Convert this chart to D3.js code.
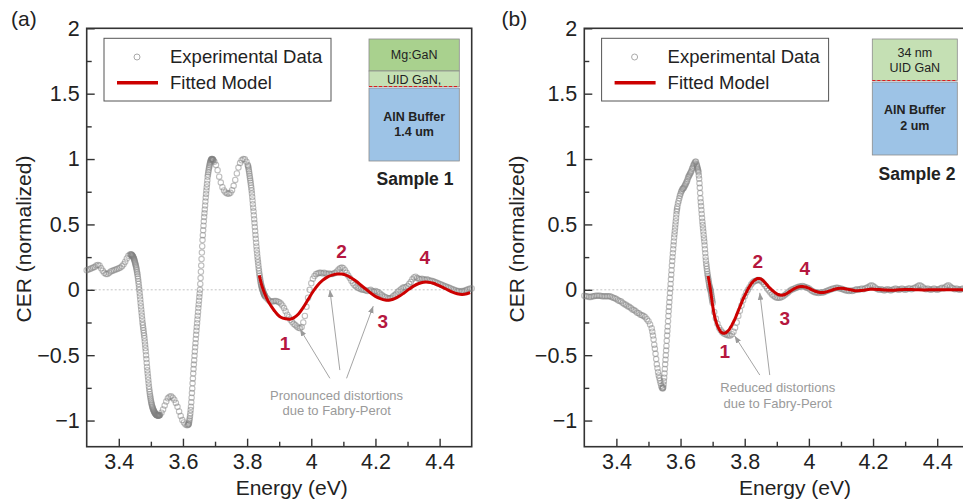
<!DOCTYPE html>
<html>
<head>
<meta charset="utf-8">
<script src="https://cdn.jsdelivr.net/npm/d3@7"></script>
<style>
  html, body { margin: 0; padding: 0; background: #fff; }
  svg { display: block; font-family: "Liberation Sans", Arial, Helvetica, sans-serif; }
</style>
</head>
<body>
<svg id="chart" width="963" height="502"></svg>
<script>
// ---- axes ----
const energyDomain = [3.3, 4.5];
const cerDomain = [-1.2, 2];
const energyTicks = [3.4, 3.6, 3.8, 4, 4.2, 4.4];
const energyMinorTicks = [3.5, 3.7, 3.9, 4.1, 4.3];
const cerTicks = [-1, -0.5, 0, 0.5, 1, 1.5, 2];
const cerMinorTicks = [-0.75, -0.25, 0.25, 0.75, 1.25, 1.75];

// ---- measured CER spectra: [start energy (eV), step (eV), CER values] ----
const sample1Spectrum = [
  [3.300, 0.005, [
    0.15, 0.155, 0.16, 0.165, 0.17, 0.175, 0.185, 0.19, 0.185, 0.165,
    0.145, 0.13, 0.12, 0.12, 0.13, 0.14, 0.145, 0.15, 0.155, 0.16,
    0.165, 0.17, 0.18, 0.195, 0.215, 0.24, 0.26, 0.27]],
  [3.438, 0.001, [
    0.27, 0.27, 0.268, 0.265, 0.262, 0.259, 0.255, 0.25, 0.245, 0.239,
    0.232, 0.224, 0.215, 0.205, 0.195, 0.185, 0.175, 0.163, 0.15, 0.135,
    0.12, 0.103, 0.085, 0.065, 0.045, 0.022, 0.0, -0.025, -0.05, -0.075,
    -0.1, -0.125, -0.15, -0.175, -0.2, -0.225, -0.25, -0.27, -0.29, -0.31,
    -0.33, -0.35, -0.37, -0.395, -0.42, -0.445, -0.47, -0.5, -0.53, -0.56,
    -0.59, -0.615, -0.64, -0.665, -0.69, -0.715, -0.74, -0.76, -0.78, -0.798,
    -0.815, -0.83, -0.845, -0.858, -0.87, -0.88, -0.89, -0.898, -0.905, -0.913,
    -0.92, -0.925, -0.93, -0.935, -0.94, -0.944, -0.947, -0.95, -0.953, -0.955,
    -0.957, -0.959, -0.96, -0.961, -0.962, -0.962, -0.962, -0.961, -0.96, -0.958,
    -0.957]],
  [3.533, 0.005, [
    -0.94, -0.915, -0.885, -0.855, -0.83, -0.818, -0.815, -0.825, -0.84, -0.865,
    -0.895, -0.93, -0.965, -0.995, -1.015, -1.03, -1.035]],
  [3.616, 0.001, [
    -1.033, -1.03, -1.025, -1.015, -1.0, -0.985, -0.965, -0.945, -0.92, -0.895,
    -0.86, -0.825, -0.79, -0.755, -0.715, -0.678, -0.64, -0.606, -0.572, -0.538,
    -0.505, -0.472, -0.44, -0.408, -0.376, -0.344, -0.314, -0.285, -0.256, -0.227,
    -0.198, -0.169, -0.14, -0.112, -0.084, -0.056, -0.028, 0.0, 0.045, 0.09,
    0.138, 0.185, 0.235, 0.285, 0.333, 0.38, 0.418, 0.455, 0.49, 0.524,
    0.556, 0.585, 0.615, 0.645, 0.675, 0.705, 0.733, 0.76, 0.785, 0.81,
    0.836, 0.864, 0.882, 0.9, 0.915, 0.929, 0.942, 0.954, 0.966, 0.975,
    0.983, 0.99, 0.995, 0.998, 1.0, 1.0, 0.998, 0.996, 0.993, 0.989]],
  [3.698, 0.005, [
    0.98, 0.955, 0.915, 0.865, 0.82, 0.785, 0.76, 0.745, 0.737, 0.735,
    0.742, 0.762, 0.795, 0.84, 0.89, 0.935, 0.97, 0.99, 1.0, 0.998,
    0.98]],
  [3.802, 0.001, [
    0.955, 0.946, 0.935, 0.921, 0.905, 0.888, 0.87, 0.853, 0.835, 0.818,
    0.8, 0.781, 0.76, 0.736, 0.71, 0.683, 0.655, 0.628, 0.6, 0.57,
    0.54, 0.51, 0.48, 0.45, 0.42, 0.39, 0.36, 0.332, 0.305, 0.28,
    0.255, 0.232, 0.21, 0.187, 0.165, 0.145, 0.125, 0.107, 0.09, 0.075,
    0.06, 0.047, 0.035, 0.025, 0.015, 0.007, 0.0, -0.008, -0.015, -0.022,
    -0.028, -0.034, -0.04, -0.045, -0.05]],
  [3.860, 0.005, [
    -0.06, -0.075, -0.085, -0.09, -0.09, -0.085, -0.085, -0.09, -0.095, -0.105,
    -0.12, -0.14, -0.165, -0.19, -0.21, -0.23, -0.245, -0.26, -0.27, -0.28,
    -0.29, -0.295, -0.285, -0.25, -0.2, -0.13, -0.06, 0.0, 0.05, 0.085,
    0.105, 0.12, 0.125, 0.13, 0.13, 0.125, 0.13, 0.125, 0.12, 0.125,
    0.12, 0.12, 0.125, 0.13, 0.14, 0.155, 0.165, 0.17, 0.165, 0.15,
    0.13, 0.11, 0.09, 0.07, 0.05, 0.035, 0.025, 0.015, 0.01, 0.005,
    0.0, 0.0, -0.005, -0.01, -0.005, 0.0, -0.01, -0.015, -0.01, -0.015,
    -0.02, -0.03, -0.04, -0.05, -0.055, -0.06, -0.065, -0.065, -0.06, -0.05,
    -0.04, -0.03, -0.015, -0.005, 0.005, 0.015, 0.02, 0.02, 0.03, 0.045,
    0.06, 0.08, 0.095, 0.1, 0.09, 0.085, 0.08, 0.085, 0.08, 0.075,
    0.08, 0.075, 0.07, 0.07, 0.065, 0.06, 0.055, 0.05, 0.045, 0.04,
    0.035, 0.03, 0.025, 0.02, 0.015, 0.01, 0.005, 0.0, -0.005, -0.01,
    -0.01, -0.015, -0.01, -0.01, -0.005, 0.0, 0.005, 0.01, 0.01]]
];

const sample2Spectrum = [
  [3.300, 0.005, [
    -0.045, -0.05, -0.05, -0.055, -0.055, -0.05, -0.05, -0.045, -0.045, -0.045,
    -0.045, -0.05, -0.05, -0.05, -0.05, -0.05, -0.05, -0.055, -0.06, -0.065,
    -0.07, -0.08, -0.085, -0.09, -0.1, -0.11, -0.115, -0.125, -0.13, -0.14,
    -0.15, -0.155, -0.165, -0.175, -0.18, -0.19, -0.195, -0.2, -0.21, -0.225,
    -0.24, -0.265, -0.295]],
  [3.512, 0.002, [
    -0.32, -0.35, -0.38, -0.42, -0.45, -0.49, -0.53, -0.57, -0.6, -0.63,
    -0.655, -0.675, -0.695, -0.715, -0.735, -0.75, -0.755]],
  [3.545, 0.001, [
    -0.752, -0.745, -0.725, -0.7, -0.672, -0.64, -0.605, -0.57, -0.535, -0.5,
    -0.465, -0.43, -0.39, -0.35, -0.315, -0.28, -0.24, -0.2, -0.165, -0.13,
    -0.095, -0.06, -0.025, 0.01, 0.045, 0.08, 0.115, 0.15, 0.185, 0.22,
    0.25, 0.28, 0.31, 0.34, 0.37, 0.4, 0.425, 0.45, 0.475, 0.5,
    0.525, 0.55, 0.575, 0.6, 0.618, 0.635]],
  [3.592, 0.002, [
    0.66, 0.68, 0.7, 0.72, 0.735, 0.75, 0.76, 0.77, 0.775, 0.78,
    0.79, 0.8, 0.81, 0.82, 0.83, 0.845, 0.86, 0.87, 0.88, 0.89,
    0.9, 0.91, 0.925, 0.935, 0.95, 0.96, 0.97, 0.98, 0.98, 0.96]],
  [3.651, 0.001, [
    0.95, 0.94, 0.93, 0.92, 0.91, 0.9, 0.875, 0.85, 0.815, 0.78,
    0.74, 0.7, 0.67, 0.64, 0.61, 0.58, 0.55, 0.52, 0.495, 0.47,
    0.445, 0.42, 0.395, 0.37, 0.34, 0.31, 0.28, 0.25, 0.225, 0.2,
    0.18, 0.16, 0.14, 0.12, 0.105, 0.09, 0.075, 0.06, 0.045, 0.03,
    0.02, 0.01, 0.0, -0.01, -0.025, -0.04, -0.055, -0.07, -0.085, -0.1]],
  [3.705, 0.005, [
    -0.17, -0.22, -0.26, -0.29, -0.31, -0.325, -0.335, -0.34, -0.345, -0.35,
    -0.35, -0.34, -0.32, -0.29, -0.25, -0.2, -0.16, -0.12, -0.08, -0.05,
    -0.02, 0.0, 0.02, 0.04, 0.055, 0.065, 0.07, 0.075, 0.075, 0.07,
    0.06, 0.045, 0.03, 0.01, -0.005, -0.02, -0.035, -0.045, -0.055, -0.06,
    -0.06, -0.06, -0.055, -0.05, -0.04, -0.03, -0.02, -0.01, 0.0, 0.005,
    0.01, 0.015, 0.02, 0.025, 0.025, 0.03, 0.025, 0.02, 0.015, 0.01,
    0.0, -0.01, -0.015, -0.02, -0.02, -0.025, -0.02, -0.02, -0.02, -0.015,
    -0.01, -0.005, 0.0, 0.005, 0.01, 0.01, 0.015, 0.015, 0.01, 0.01,
    0.005, 0.0, -0.005, -0.005, -0.01, -0.005, -0.01, -0.005, 0.0, 0.005,
    0.0, 0.005, 0.01, 0.005, 0.01, 0.015, 0.02, 0.03, 0.035, 0.03,
    0.02, 0.01, 0.005, 0.0, 0.005, 0.0, -0.005, 0.0, 0.005, 0.0,
    -0.005, 0.0, 0.005, 0.01, 0.005, 0.0, 0.005, 0.01, 0.005, 0.0,
    0.005, 0.01, 0.01, 0.005, 0.01, 0.015, 0.02, 0.03, 0.035, 0.03,
    0.02, 0.01, 0.005, 0.01, 0.005, 0.0, 0.005, 0.01, 0.005, 0.0,
    0.005, 0.01, 0.015, 0.01, 0.02, 0.03, 0.035, 0.025, 0.015, 0.01,
    0.005, 0.01, 0.005, 0.0, 0.005, 0.01, 0.005, 0.0, 0.005, 0.0]]
];

// ---- fitted model curves: [energy (eV), CER] ----
const sample1Fit = [
  [3.838, 0.11], [3.845, 0.04], [3.855, -0.03], [3.865, -0.085], [3.875, -0.125],
  [3.885, -0.16], [3.895, -0.19], [3.905, -0.21], [3.92, -0.222], [3.933, -0.225],
  [3.945, -0.215], [3.96, -0.185], [3.975, -0.135], [3.99, -0.075], [4.005, -0.015],
  [4.02, 0.035], [4.035, 0.072], [4.05, 0.097], [4.065, 0.112], [4.08, 0.12],
  [4.095, 0.12], [4.11, 0.11], [4.125, 0.09], [4.14, 0.065], [4.155, 0.035],
  [4.17, 0.005], [4.185, -0.025], [4.2, -0.05], [4.215, -0.067], [4.23, -0.078],
  [4.245, -0.078], [4.26, -0.068], [4.275, -0.048], [4.29, -0.022], [4.305, 0.005],
  [4.32, 0.03], [4.335, 0.048], [4.35, 0.058], [4.365, 0.058], [4.38, 0.05],
  [4.395, 0.035], [4.41, 0.018], [4.425, 0.0], [4.44, -0.018], [4.455, -0.03],
  [4.47, -0.035], [4.485, -0.03], [4.495, -0.022]
];

const sample2Fit = [
  [3.686, 0.105], [3.69, 0.05], [3.695, -0.03], [3.7, -0.12], [3.705, -0.19],
  [3.71, -0.24], [3.715, -0.275], [3.72, -0.3], [3.725, -0.32], [3.73, -0.33],
  [3.735, -0.333], [3.74, -0.33], [3.745, -0.32], [3.75, -0.31], [3.755, -0.29],
  [3.76, -0.27], [3.765, -0.245], [3.77, -0.22], [3.775, -0.19], [3.78, -0.16],
  [3.785, -0.13], [3.79, -0.1], [3.795, -0.07], [3.8, -0.045], [3.805, -0.02],
  [3.81, 0.005], [3.815, 0.025], [3.82, 0.045], [3.825, 0.06], [3.83, 0.072],
  [3.835, 0.08], [3.84, 0.086], [3.845, 0.087], [3.85, 0.083], [3.855, 0.075],
  [3.86, 0.064], [3.865, 0.05], [3.87, 0.036], [3.875, 0.022], [3.88, 0.01],
  [3.885, -0.002], [3.89, -0.012], [3.895, -0.022], [3.9, -0.03], [3.905, -0.036],
  [3.91, -0.04], [3.915, -0.041], [3.92, -0.04], [3.925, -0.036], [3.93, -0.03],
  [3.935, -0.022], [3.94, -0.014], [3.945, -0.006], [3.95, 0.002], [3.955, 0.009],
  [3.96, 0.015], [3.965, 0.02], [3.97, 0.023], [3.975, 0.025], [3.98, 0.025],
  [3.985, 0.024], [3.99, 0.021], [3.995, 0.017], [4.0, 0.012], [4.01, 0.0],
  [4.02, -0.011], [4.03, -0.018], [4.04, -0.02], [4.05, -0.018], [4.06, -0.012],
  [4.07, -0.004], [4.08, 0.004], [4.09, 0.01], [4.1, 0.012], [4.11, 0.01],
  [4.12, 0.005], [4.13, 0.0], [4.14, -0.005], [4.15, -0.007], [4.16, -0.006],
  [4.17, -0.003], [4.18, 0.001], [4.19, 0.004], [4.2, 0.005], [4.22, 0.002],
  [4.24, -0.002], [4.26, -0.003], [4.28, 0.0], [4.3, 0.002], [4.32, 0.002],
  [4.34, 0.0], [4.36, -0.001], [4.38, 0.0], [4.4, 0.001], [4.42, 0.001],
  [4.44, 0.0], [4.46, 0.0], [4.48, 0.0], [4.5, 0.0]
];

// ---- numbered oscillation extrema: [label, energy, CER at text baseline] ----
const sample1Extrema = [["1", 3.918, -0.461], ["2", 4.094, 0.240], ["3", 4.223, -0.293], ["4", 4.354, 0.196]];
const sample2Extrema = [["1", 3.738, -0.522], ["2", 3.841, 0.166], ["3", 3.925, -0.270], ["4", 3.987, 0.112]];

// ---- callout arrows: [from energy, from CER, to energy, to CER] ----
const sample1Arrows = [[4.058, -0.677, 3.965, -0.301], [4.089, -0.614, 4.058, -0.002], [4.110, -0.677, 4.193, -0.125]];
const sample2Arrows = [[3.847, -0.652, 3.769, -0.354], [3.878, -0.652, 3.847, -0.023]];
const sample1Note = { e: 4.079, v: [-0.842, -0.960], lines: ["Pronounced distortions", "due to Fabry-Perot"] };
const sample2Note = { e: 3.903, v: [-0.782, -0.904], lines: ["Reduced distortions", "due to Fabry-Perot"] };

// ---- layer stacks drawn beside the legend ----
const sample1Stack = {
  x: 282.3, w: 90.3, title: "Sample 1", titleX: 328.3, titleY: 157.2, dashY: 58.2,
  layers: [
    { y: 10.7, h: 32, fill: "#a9d18e" },
    { y: 42.7, h: 15.5, fill: "#c5e0b4" },
    { y: 59.7, h: 73, fill: "#9dc3e6" }
  ],
  texts: [
    { t: "Mg:GaN", y: 31.2, bold: false },
    { t: "UID GaN,", y: 56.0, bold: false },
    { t: "AlN Buffer", y: 92.7, bold: true },
    { t: "1.4 um", y: 107.7, bold: true }
  ]
};
const sample2Stack = {
  x: 288, w: 85, title: "Sample 2", titleX: 332.7, titleY: 152.2, dashY: 52.2,
  layers: [
    { y: 10.7, h: 41.5, fill: "#c5e0b4" },
    { y: 53.7, h: 73, fill: "#9dc3e6" }
  ],
  texts: [
    { t: "34 nm", y: 29.2, bold: false },
    { t: "UID GaN", y: 44.2, bold: false },
    { t: "AlN Buffer", y: 86.2, bold: true },
    { t: "2 um", y: 102.2, bold: true }
  ]
};

const legendLabels = ["Experimental Data", "Fitted Model"];

const panels = [
  { tag: "(a)", tagX: 11, left: 86.7, spectrum: sample1Spectrum, fit: sample1Fit,
    extrema: sample1Extrema, arrows: sample1Arrows, note: sample1Note, stack: sample1Stack,
    xTitleDx: 205, yTitleX: 31 },
  { tag: "(b)", tagX: 501.5, left: 584.3, spectrum: sample2Spectrum, fit: sample2Fit,
    extrema: sample2Extrema, arrows: sample2Arrows, note: sample2Note, stack: sample2Stack,
    xTitleDx: 210.7, yTitleX: 524 }
];

// ---- drawing ----
const svg = d3.select("#chart");
const TOP = 28.3, W = 385, H = 418.4;
const RED = "#cc0000", ACCENT = "#b5173f", INK = "#222";

svg.append("defs").append("marker")
  .attr("id", "arrowhead").attr("viewBox", "0 0 10 10")
  .attr("refX", 10).attr("refY", 5)
  .attr("markerWidth", 7).attr("markerHeight", 7)
  .attr("markerUnits", "userSpaceOnUse").attr("orient", "auto")
  .append("path").attr("d", "M0,1 L10,5 L0,9 Z").attr("fill", "#9a9a9a");

function expand(segments) {
  return segments.flatMap(([e0, step, vals]) =>
    vals.map((v, i) => ({ e: +(e0 + i * step).toFixed(4), v })));
}

panels.forEach(p => {
  const x = d3.scaleLinear().domain(energyDomain).range([0, W]);
  const y = d3.scaleLinear().domain(cerDomain).range([H, 0]);
  const g = svg.append("g").attr("transform", `translate(${p.left},${TOP})`);
  const fmt = d3.format("~g");

  // panel tag
  svg.append("text").attr("x", p.tagX).attr("y", 25.5)
    .attr("font-size", 21).attr("fill", INK).text(p.tag);

  // zero reference
  g.append("line").attr("x1", 0).attr("x2", W).attr("y1", y(0)).attr("y2", y(0))
    .attr("stroke", "#c4c4c4").attr("stroke-width", 1).attr("stroke-dasharray", "2,2");

  // axes (ticks drawn inward)
  const styleAxis = sel => {
    sel.select(".domain").remove();
    sel.selectAll(".tick line").attr("stroke", "#333").attr("stroke-width", 1.4);
    sel.selectAll(".tick text").attr("fill", INK).attr("font-size", 21.5)
      .attr("font-family", "Liberation Sans, Arial, sans-serif");
  };
  g.append("g").attr("transform", `translate(0,${H})`)
    .call(d3.axisBottom(x).tickValues(energyTicks).tickFormat(fmt)
      .tickSizeInner(-8).tickSizeOuter(0).tickPadding(7))
    .call(styleAxis);
  g.append("g").attr("transform", `translate(0,${H})`)
    .call(d3.axisBottom(x).tickValues(energyMinorTicks).tickFormat("")
      .tickSizeInner(-5).tickSizeOuter(0))
    .call(styleAxis);
  g.append("g")
    .call(d3.axisLeft(y).tickValues(cerTicks).tickFormat(fmt)
      .tickSizeInner(-8).tickSizeOuter(0).tickPadding(7))
    .call(styleAxis);
  g.append("g")
    .call(d3.axisLeft(y).tickValues(cerMinorTicks).tickFormat("")
      .tickSizeInner(-5).tickSizeOuter(0))
    .call(styleAxis);

  // frame
  g.append("rect").attr("width", W).attr("height", H)
    .attr("fill", "none").attr("stroke", "#333").attr("stroke-width", 1.6);

  // axis titles
  g.append("text").attr("x", p.xTitleDx).attr("y", 495 - TOP)
    .attr("text-anchor", "middle").attr("font-size", 21).attr("fill", INK)
    .text("Energy (eV)");
  svg.append("text")
    .attr("transform", `translate(${p.yTitleX},239) rotate(-90)`)
    .attr("text-anchor", "middle").attr("font-size", 21).attr("fill", INK)
    .text("CER (normalized)");

  // experimental points
  g.append("g").selectAll("circle").data(expand(p.spectrum)).join("circle")
    .attr("cx", d => x(d.e)).attr("cy", d => y(d.v)).attr("r", 2.7)
    .attr("fill", "none").attr("stroke", "#808080")
    .attr("stroke-opacity", 0.5).attr("stroke-width", 1.1);

  // fitted model
  g.append("path").datum(p.fit)
    .attr("d", d3.line().x(d => x(d[0])).y(d => y(d[1])).curve(d3.curveCatmullRom.alpha(0.5)))
    .attr("fill", "none").attr("stroke", RED).attr("stroke-width", 3)
    .attr("stroke-linejoin", "round");

  // callout arrows and note
  g.append("g").selectAll("line").data(p.arrows).join("line")
    .attr("x1", d => x(d[0])).attr("y1", d => y(d[1]))
    .attr("x2", d => x(d[2])).attr("y2", d => y(d[3]))
    .attr("stroke", "#9a9a9a").attr("stroke-width", 0.9)
    .attr("marker-end", "url(#arrowhead)");
  g.append("g").selectAll("text").data(p.note.lines).join("text")
    .attr("x", x(p.note.e)).attr("y", (d, i) => y(p.note.v[i]))
    .attr("text-anchor", "middle").attr("font-size", 13).attr("fill", "#9a9a9a")
    .text(d => d);

  // numbered extrema
  g.append("g").selectAll("text").data(p.extrema).join("text")
    .attr("x", d => x(d[1])).attr("y", d => y(d[2]))
    .attr("text-anchor", "middle").attr("font-size", 19).attr("font-weight", "bold")
    .attr("fill", ACCENT).text(d => d[0]);

  // legend
  const lg = g.append("g").attr("transform", "translate(17.3,10)");
  lg.append("rect").attr("width", 227).attr("height", 62.7)
    .attr("fill", "#fff").attr("stroke", "#555").attr("stroke-width", 1);
  lg.append("circle").attr("cx", 33).attr("cy", 18.7).attr("r", 3)
    .attr("fill", "none").attr("stroke", "#aaa").attr("stroke-width", 1);
  lg.append("line").attr("x1", 13).attr("x2", 54).attr("y1", 44.5).attr("y2", 44.5)
    .attr("stroke", RED).attr("stroke-width", 3.5);
  lg.selectAll("text.lab").data(legendLabels).join("text").attr("class", "lab")
    .attr("x", 66).attr("y", (d, i) => 25 + i * 26)
    .attr("font-size", 18.5).attr("fill", INK).text(d => d);

  // layer stack
  const s = p.stack;
  const sg = g.append("g");
  sg.selectAll("rect").data(s.layers).join("rect")
    .attr("x", s.x).attr("y", d => d.y).attr("width", s.w).attr("height", d => d.h)
    .attr("fill", d => d.fill).attr("stroke", "#8c8c8c").attr("stroke-width", 0.8);
  sg.append("line").attr("x1", s.x).attr("x2", s.x + s.w).attr("y1", s.dashY).attr("y2", s.dashY)
    .attr("stroke", "#e01b1b").attr("stroke-width", 1.2).attr("stroke-dasharray", "3,2");
  sg.selectAll("text.layer").data(s.texts).join("text").attr("class", "layer")
    .attr("x", s.x + s.w / 2).attr("y", d => d.y)
    .attr("text-anchor", "middle").attr("font-size", 12.5)
    .attr("font-weight", d => d.bold ? "bold" : "normal").attr("fill", INK)
    .text(d => d.t);
  sg.append("text").attr("x", s.titleX).attr("y", s.titleY)
    .attr("text-anchor", "middle").attr("font-size", 17.5).attr("font-weight", "bold")
    .attr("fill", INK).text(s.title);
});
</script>
</body>
</html>
